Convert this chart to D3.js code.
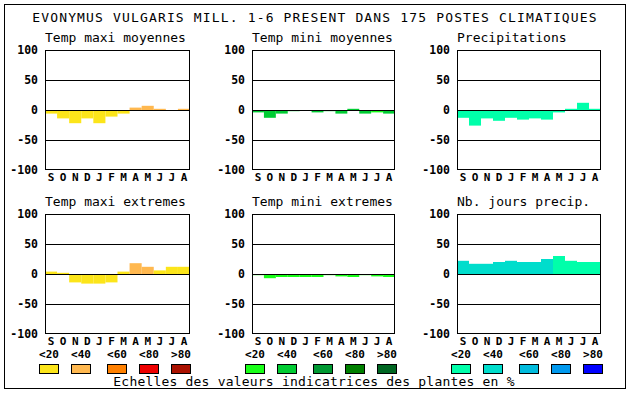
<!DOCTYPE html>
<html><head><meta charset="utf-8">
<script src="https://cdn.jsdelivr.net/npm/d3@7"></script>
<style>body{margin:0;background:#fff}svg{display:block}</style>
</head><body>
<script>
const months = ["S","O","N","D","J","F","M","A","M","J","J","A"];
const yTicks = [100, 50, 0, -50, -100];
const classLabels = ["<20","<40","<60","<80",">80"];
const titles = ["Temp maxi moyennes","Temp mini moyennes","Precipitations","Temp maxi extremes","Temp mini extremes","Nb. jours precip."];
const tempColors = ["#fce51a","#ffb84f","#ff8000","#ee0000","#aa1100"];
const greenColors = ["#19ff19","#00cc33","#009933","#008000","#006622"];
const blueColors = ["#00ffaa","#00ddcc","#00bbdd","#0099ee","#0000ff"];

const tmaxMoy   = [-6,-14,-22,-14,-22,-11,-6,4,7,2,0,2];
const tmaxMoyC  = [0,0,0,0,0,0,0,1,1,1,1,1];
const tminMoy   = [-4,-13,-6,-2,0,-4,-2,-6,2,-6,-4,-6];
const tminMoyC  = [1,1,1,1,1,1,1,1,1,1,0,1];
const precip    = [-13,-26,-14,-18,-13,-16,-14,-16,-4,2,12,2];
const precipC   = [0,0,0,0,0,0,0,0,0,0,0,0];
const tmaxExt   = [4,2,-14,-16,-16,-14,4,18,12,6,12,12];
const tmaxExtC  = [0,0,0,0,0,0,0,1,1,0,0,0];
const tminExt   = [-2,-7,-5,-5,-5,-5,-2,-4,-5,-2,-4,-5];
const tminExtC  = [0,0,0,0,0,0,0,0,0,0,0,0];
const nbJours   = [22,17,17,20,22,20,20,25,30,22,20,20];
const nbJoursC  = [1,1,1,1,1,1,1,1,0,0,0,0];

const W = 630, H = 394;
const svg = d3.select("body").append("svg").attr("width", W).attr("height", H);
const mono = "'DejaVu Sans Mono', 'Liberation Mono', monospace";

svg.append("rect").attr("x",4.5).attr("y",4.5).attr("width",621).attr("height",384)
  .attr("fill","none").attr("stroke","#000").attr("stroke-width",1);

svg.append("text").attr("x",315).attr("y",22).attr("text-anchor","middle")
  .attr("font-family",mono).attr("font-size",13).attr("letter-spacing",1.15)
  .text("EVONYMUS VULGARIS MILL. 1-6 PRESENT DANS 175 POSTES CLIMATIQUES");

const colsX = [[45,190],[252,395],[457,601]];
const rowsY = [[50,170],[214,334]];
const series = [
  [tmaxMoy,tmaxMoyC,tempColors],[tminMoy,tminMoyC,greenColors],[precip,precipC,blueColors],
  [tmaxExt,tmaxExtC,tempColors],[tminExt,tminExtC,greenColors],[nbJours,nbJoursC,blueColors]
];

series.forEach((s, i) => {
  const [vals, cls, pal] = s;
  const [x0,x1] = colsX[i%3], [y0,y1] = rowsY[Math.floor(i/3)];
  const x = d3.scaleBand().domain(d3.range(12)).range([x0,x1]).paddingInner(0).paddingOuter(0);
  const y = d3.scaleLinear().domain([-100,100]).range([y1,y0]);
  const g = svg.append("g");
  g.append("text").attr("x",x0).attr("y",y0-8).attr("font-family",mono).attr("font-size",13).text(titles[i]);
  g.selectAll("rect.bar").data(vals).join("rect").attr("class","bar")
    .attr("x",(d,j)=>x(j)).attr("width",x.bandwidth())
    .attr("y",d=>y(Math.max(0,d))).attr("height",d=>Math.abs(y(d)-y(0)))
    .attr("fill",(d,j)=>pal[cls[j]]);
  g.selectAll("line.grid").data([50,0,-50]).join("line").attr("class","grid")
    .attr("x1",x0).attr("x2",x1).attr("y1",d=>Math.round(y(d))+0.5).attr("y2",d=>Math.round(y(d))+0.5)
    .attr("stroke","#000").attr("stroke-width",1);
  g.append("rect").attr("x",x0+0.5).attr("y",y0+0.5).attr("width",x1-x0-1).attr("height",y1-y0-1)
    .attr("fill","none").attr("stroke","#000").attr("stroke-width",1);
  g.selectAll("text.yt").data(yTicks).join("text").attr("class","yt")
    .attr("x",x0-7).attr("y",d=>y(d)+4).attr("text-anchor","end")
    .attr("font-family",mono).attr("font-weight","bold").attr("font-size",11.5).text(d=>d);
  g.selectAll("text.mt").data(months).join("text").attr("class","mt")
    .attr("x",(d,j)=>x(j)+x.bandwidth()/2).attr("y",y1+11).attr("text-anchor","middle")
    .attr("font-family",mono).attr("font-weight","bold").attr("font-size",11).text(d=>d);
});

const legendPals = [tempColors, greenColors, blueColors];
const swatchOffsets = [0,32,68,100,132];
const groupStarts = [39,245,451];
legendPals.forEach((pal,gi) => {
  const g = svg.append("g");
  g.selectAll("rect").data(pal).join("rect")
    .attr("x",(d,j)=>groupStarts[gi]+swatchOffsets[j]+0.5).attr("y",364.5)
    .attr("width",19).attr("height",9).attr("fill",d=>d).attr("stroke","#000");
  g.selectAll("text").data(classLabels).join("text")
    .attr("x",(d,j)=>groupStarts[gi]+swatchOffsets[j]+10).attr("y",357.5).attr("text-anchor","middle")
    .attr("font-family",mono).attr("font-weight","bold").attr("font-size",11).text(d=>d);
});

svg.append("text").attr("x",314).attr("y",386).attr("text-anchor","middle")
  .attr("font-family",mono).attr("font-size",13).attr("letter-spacing",0.2)
  .text("Echelles des valeurs indicatrices des plantes en %");
</script>
</body></html>
